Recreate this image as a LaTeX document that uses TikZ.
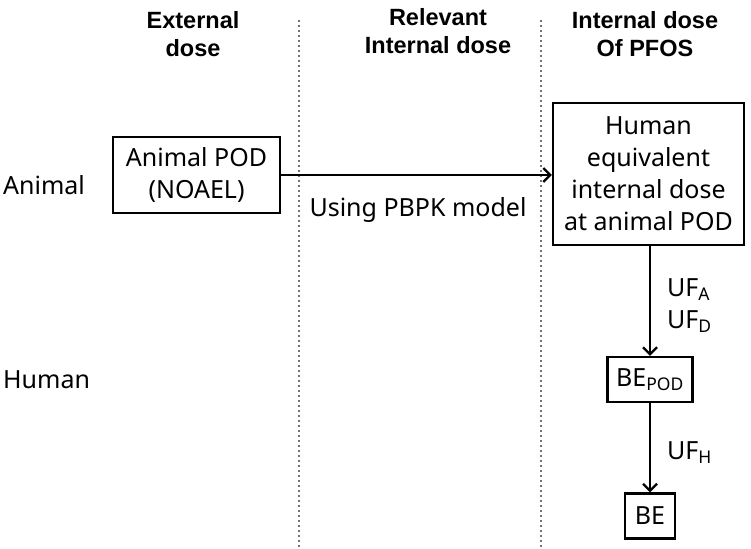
\documentclass[tikz,border=0pt]{standalone}
\usepackage{fontspec}
\setmainfont{Noto Sans}
\newfontfamily\headfont{Liberation Sans}
\usetikzlibrary{arrows.meta}
\tikzstyle{box}=[draw,line width=2.4pt,align=center,inner sep=0pt,font=\fontsize{25}{32}\selectfont]
\tikzstyle{head}=[align=center,font=\headfont\bfseries\fontsize{23.5}{28}\selectfont]
\tikzstyle{lbl}=[font=\fontsize{25}{32}\selectfont,align=left,inner sep=0pt]
\tikzstyle{link}=[draw,line width=2.2pt,-{Straight Barb[length=7pt,width=14pt,line width=2.2pt]}]
\tikzstyle{divider}=[draw,black!55,line width=1.4pt,dash pattern=on 2pt off 3pt]

\begin{document}
\begin{tikzpicture}[x=1pt,y=-1pt]
    \fill[white] (0,0) rectangle (751,548);
    \useasboundingbox (0,0) rectangle (751,548);

    \path[divider] (299,20) -- (299,548);
    \path[divider] (541,20) -- (541,548);

    \node[head] (hext) at (193,34) {External\\dose};
    \node[head] (hrel) at (438,31) {Relevant\\Internal dose};
    \node[head] (hint) at (645,34) {Internal dose\\Of PFOS};

    \node[lbl,anchor=west] (ranimal) at (3,185) {Animal};
    \node[lbl,anchor=west] (rhuman) at (3,380) {Human};

    \node[box,minimum width=167pt,minimum height=76pt] (animal) at (196.5,175) {Animal POD\\(NOAEL)};
    \node[box,minimum width=191pt,minimum height=142pt] (human) at (648.5,174) {Human\\equivalent\\internal dose\\at animal POD};
    \node[box,minimum width=85pt,minimum height=45pt] (bepod) at (650,379.5) {BE\textsubscript{POD}};
    \node[box,minimum width=50pt,minimum height=45pt] (be) at (650,516) {BE};

    \path[link] (animal.east) -- (animal.east -| human.west);
    \path[link] (human.south -| bepod.north) -- (bepod.north);
    \path[link] (bepod.south) -- (be.north);

    \node[lbl] (pbpk) at (418,210) {Using PBPK model};
    \node[lbl,anchor=west] (ufad) at (667,306) {UF\textsubscript{A}\\UF\textsubscript{D}};
    \node[lbl,anchor=west] (ufh) at (667,453) {UF\textsubscript{H}};
\end{tikzpicture}
\end{document}
